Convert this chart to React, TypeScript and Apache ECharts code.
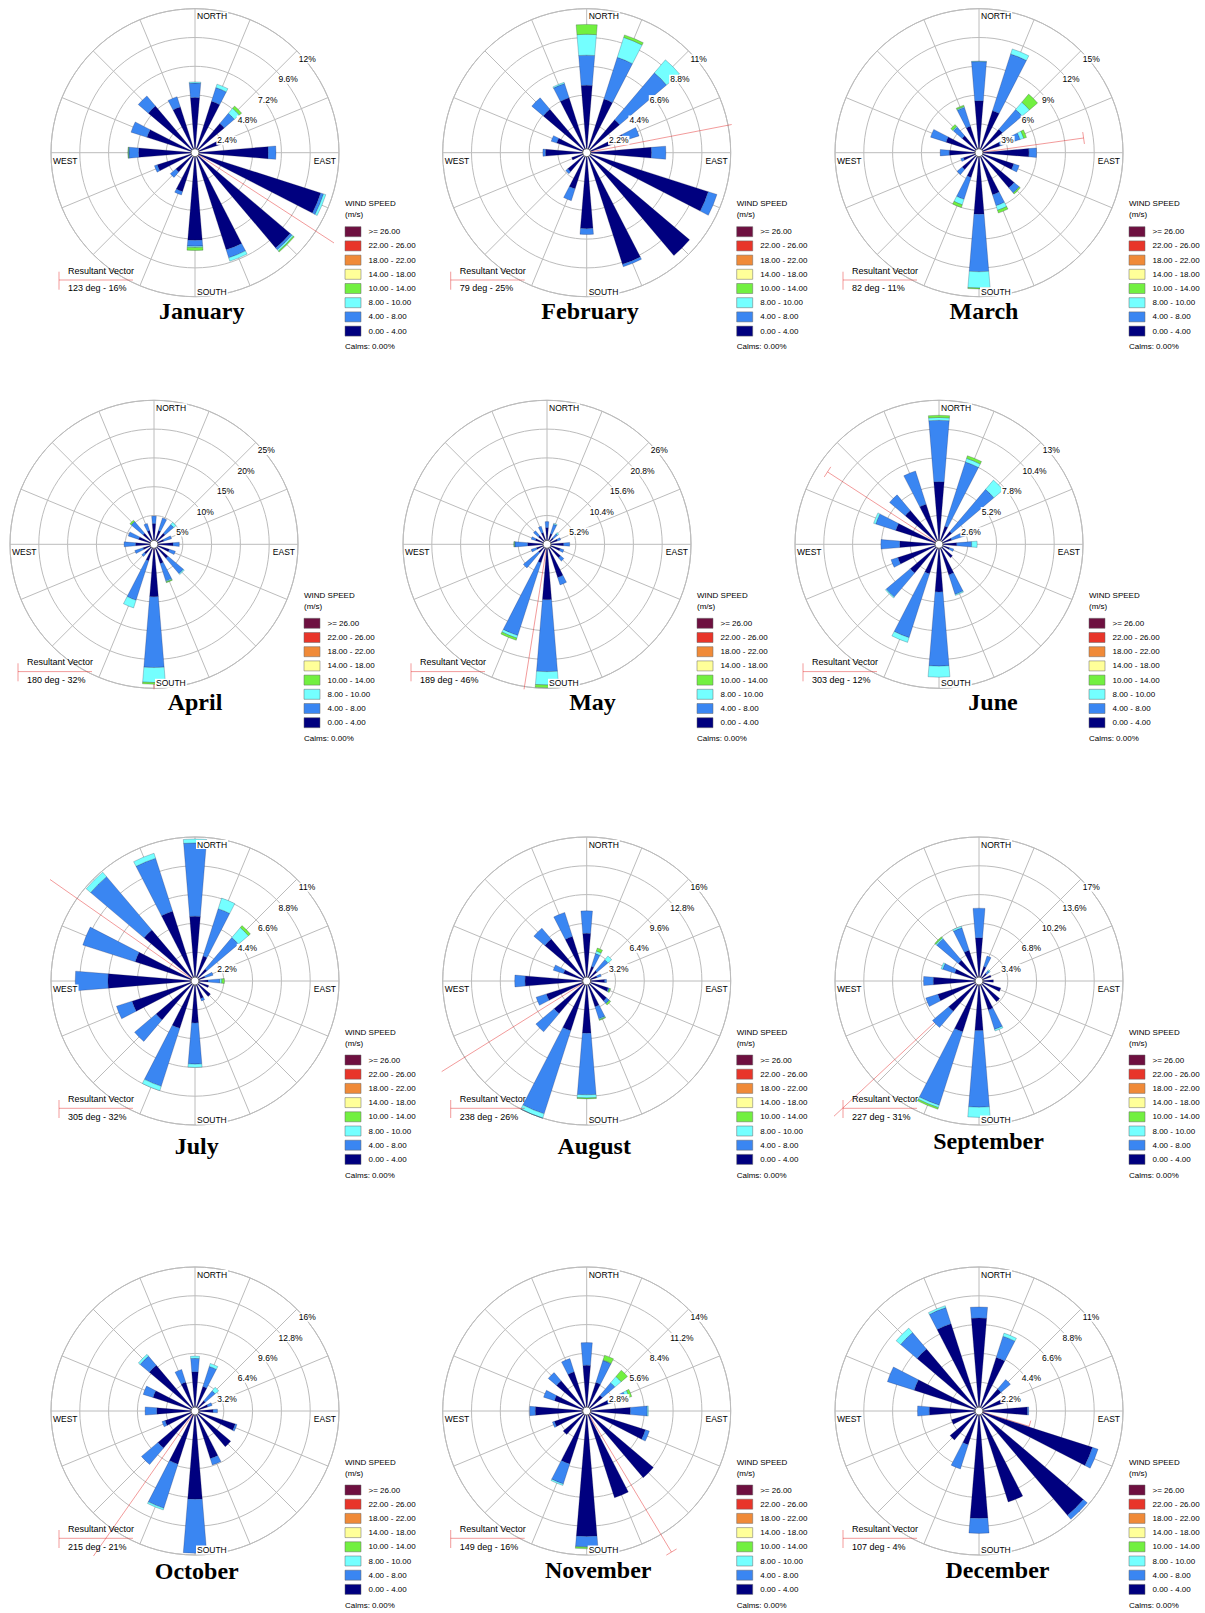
import React, { useEffect, useRef } from 'react';
import * as echarts from 'echarts';

// ---------- DATA ----------
const DIRECTIONS = ['N', 'NNE', 'NE', 'ENE', 'E', 'ESE', 'SE', 'SSE', 'S', 'SSW', 'SW', 'WSW', 'W', 'WNW', 'NW', 'NNW'];
const MONTHS = ['January', 'February', 'March', 'April', 'May', 'June', 'July', 'August', 'September', 'October', 'November', 'December'];
const SPEED_CLASSES = ['0.00 - 4.00', '4.00 - 8.00', '8.00 - 10.00', '10.00 - 14.00'];
const LEGEND_LABELS = ['>= 26.00', '22.00 - 26.00', '18.00 - 22.00', '14.00 - 18.00', '10.00 - 14.00', '8.00 - 10.00', '4.00 - 8.00', '0.00 - 4.00'];
const SCALE_MAX = [12, 11, 15, 25, 26, 13, 11, 16, 17, 16, 14, 11];
const TICK_LABELS = [
  ['2.4%', '4.8%', '7.2%', '9.6%', '12%'],
  ['2.2%', '4.4%', '6.6%', '8.8%', '11%'],
  ['3%', '6%', '9%', '12%', '15%'],
  ['5%', '10%', '15%', '20%', '25%'],
  ['5.2%', '10.4%', '15.6%', '20.8%', '26%'],
  ['2.6%', '5.2%', '7.8%', '10.4%', '13%'],
  ['2.2%', '4.4%', '6.6%', '8.8%', '11%'],
  ['3.2%', '6.4%', '9.6%', '12.8%', '16%'],
  ['3.4%', '6.8%', '10.2%', '13.6%', '17%'],
  ['3.2%', '6.4%', '9.6%', '12.8%', '16%'],
  ['2.8%', '5.6%', '8.4%', '11.2%', '14%'],
  ['2.2%', '4.4%', '6.6%', '8.8%', '11%'],
];
const RESULTANT_DEG = [123, 79, 82, 180, 189, 303, 305, 238, 227, 215, 149, 107];
const RESULTANT_PCT = [16, 25, 11, 32, 46, 12, 32, 26, 31, 21, 16, 4];
const CALMS = '0.00%';

// frequencies (%) per direction N..NNW, per wind speed class
const JAN_0_4 = [4.6, 4.5, 3.2, 2.3, 6.1, 11.0, 10.4, 8.5, 7.3, 3.4, 2.1, 3.3, 4.7, 4.2, 5.1, 4.0];
const JAN_4_8 = [1.2, 1.2, 1.1, 0, 0.65, 0.25, 0.2, 0.7, 0.5, 0.3, 0.6, 0.25, 0.8, 1.4, 1.1, 0.9];
const JAN_8_10 = [0.1, 0.3, 0.55, 0, 0, 0.2, 0.15, 0.3, 0.1, 0, 0, 0, 0.05, 0, 0, 0];
const JAN_10_14 = [0, 0, 0.25, 0, 0, 0, 0.1, 0, 0.25, 0, 0, 0, 0.05, 0, 0, 0];

const FEB_0_4 = [5.15, 4.3, 3.3, 3.0, 4.95, 9.75, 10.3, 8.95, 5.8, 2.9, 1.9, 1.2, 3.15, 2.4, 4.35, 4.4];
const FEB_4_8 = [2.3, 3.35, 4.7, 1.2, 1.1, 0.7, 0, 0.2, 0.45, 0.95, 0.2, 0, 0.2, 0.45, 1.15, 1.15];
const FEB_8_10 = [1.6, 1.6, 1.3, 0, 0, 0, 0, 0, 0, 0, 0, 0, 0, 0, 0, 0.1];
const FEB_10_14 = [0.75, 0.2, 0, 0, 0, 0, 0, 0, 0, 0, 0, 0, 0, 0, 0, 0];

const MAR_0_4 = [5.4, 4.6, 3.2, 2.3, 5.2, 3.8, 4.8, 4.6, 6.4, 2.7, 2.3, 1.7, 3.1, 3.6, 2.3, 2.9];
const MAR_4_8 = [4.1, 6.2, 2.7, 2.2, 0.8, 0.6, 0.7, 1.2, 6.0, 2.4, 0.7, 0.3, 0.95, 1.7, 1.2, 2.05];
const MAR_8_10 = [0.05, 0.55, 1.0, 0.4, 0, 0, 0, 0.5, 1.7, 0.6, 0, 0, 0, 0, 0.1, 0.1];
const MAR_10_14 = [0, 0, 1.1, 0.3, 0, 0, 0.15, 0.3, 0.1, 0.3, 0, 0, 0, 0, 0.25, 0.15];

const APR_0_4 = [3.6, 2.5, 2.5, 1.8, 3.3, 2.8, 3.2, 3.5, 9.1, 3.0, 2.2, 2.0, 3.2, 2.8, 2.5, 2.5];
const APR_4_8 = [1.3, 2.3, 2.0, 1.4, 1.1, 1.1, 3.5, 3.2, 12.3, 7.2, 0.6, 1.5, 2.0, 1.9, 2.7, 1.3];
const APR_8_10 = [0, 0, 0.5, 0, 0, 0, 0.2, 0.15, 2.6, 1.4, 0, 0, 0, 0, 0, 0];
const APR_10_14 = [0, 0, 0, 0, 0, 0, 0, 0.15, 0.3, 0, 0, 0, 0, 0, 0.3, 0];

const MAY_0_4 = [3.0, 2.0, 1.5, 2.0, 3.0, 2.5, 3.2, 6.3, 10.0, 3.5, 2.0, 2.0, 3.5, 2.2, 2.0, 2.2];
const MAY_4_8 = [1.1, 1.8, 1.0, 0.6, 1.1, 0.7, 0.8, 1.4, 13.0, 13.8, 3.6, 1.0, 2.3, 0.8, 1.2, 1.2];
const MAY_8_10 = [0, 0.2, 0.3, 0, 0, 0, 0, 0, 2.4, 0.5, 0, 0, 0.1, 0, 0, 0];
const MAY_10_14 = [0, 0, 0, 0, 0, 0, 0, 0, 0.5, 0.4, 0, 0, 0.1, 0, 0, 0];

const JUN_0_4 = [5.65, 1.7, 1.5, 1.2, 1.6, 1.0, 1.6, 2.9, 4.3, 2.8, 3.4, 3.9, 3.55, 4.1, 4.0, 3.8];
const JUN_4_8 = [5.55, 6.1, 5.0, 1.7, 1.35, 0.4, 0, 1.85, 6.7, 6.05, 2.85, 0.65, 1.7, 1.9, 1.85, 3.15];
const JUN_8_10 = [0.25, 0.35, 1.1, 0, 0.5, 0, 0, 0.1, 1.0, 0.45, 0.1, 0, 0, 0.2, 0, 0];
const JUN_10_14 = [0.2, 0.25, 0, 0, 0, 0, 0, 0, 0, 0, 0, 0, 0, 0, 0, 0];

const JUL_0_4 = [4.95, 2.0, 1.2, 0.8, 1.0, 1.1, 1.55, 1.4, 3.2, 3.8, 3.9, 5.05, 6.65, 4.8, 5.1, 5.6];
const JUL_4_8 = [5.6, 3.8, 3.15, 0.65, 0.9, 0, 0, 0.2, 3.15, 4.65, 2.15, 1.25, 2.5, 4.2, 5.35, 4.25];
const JUL_8_10 = [0.3, 0.85, 1.0, 0, 0.15, 0, 0, 0, 0.25, 0.35, 0, 0, 0, 0, 0.45, 0.4];
const JUL_10_14 = [0, 0, 0.2, 0, 0.2, 0, 0, 0, 0, 0, 0, 0, 0, 0, 0, 0];

const AUG_0_4 = [5.3, 1.7, 1.5, 1.2, 2.0, 2.5, 2.9, 3.0, 5.8, 5.8, 4.75, 4.7, 6.85, 2.7, 6.1, 5.2];
const AUG_4_8 = [2.5, 1.5, 1.6, 0.5, 0.2, 0.15, 0.4, 1.4, 6.85, 9.7, 2.65, 1.2, 1.15, 1.2, 1.6, 2.8];
const AUG_8_10 = [0, 0.3, 0.55, 0, 0, 0, 0, 0.1, 0.35, 0.5, 0, 0, 0, 0, 0, 0];
const AUG_10_14 = [0, 0.35, 0, 0, 0, 0.15, 0.2, 0.1, 0.1, 0.2, 0, 0, 0, 0, 0, 0];

const SEP_0_4 = [5.1, 1.8, 1.2, 1.5, 1.7, 2.7, 3.2, 3.6, 5.85, 6.3, 4.7, 5.1, 5.4, 3.0, 3.2, 3.8];
const SEP_4_8 = [3.5, 1.3, 0.4, 0, 0, 0, 0, 2.4, 9.05, 9.1, 2.5, 1.5, 1.15, 1.5, 3.35, 2.8];
const SEP_8_10 = [0, 0, 0.15, 0, 0, 0, 0, 0.2, 1.2, 0.3, 0, 0, 0, 0.2, 0.15, 0.2];
const SEP_10_14 = [0, 0, 0, 0, 0, 0, 0, 0, 0, 0.2, 0, 0, 0, 0, 0.15, 0];

const OCT_0_4 = [4.35, 2.85, 1.5, 1.5, 2.0, 4.7, 5.2, 5.55, 9.8, 6.2, 5.4, 3.5, 4.25, 4.9, 6.65, 3.35];
const OCT_4_8 = [1.5, 2.35, 1.45, 0.5, 0.5, 0.2, 0, 0.75, 6.0, 5.15, 2.4, 0.35, 1.3, 1.15, 1.35, 1.5];
const OCT_8_10 = [0.25, 0.35, 0.5, 0, 0, 0, 0, 0, 0, 0.2, 0, 0, 0, 0, 0.25, 0];
const OCT_10_14 = [0, 0, 0, 0, 0, 0, 0, 0, 0, 0, 0, 0, 0, 0, 0, 0];

const NOV_0_4 = [4.45, 2.9, 2.0, 2.2, 4.25, 6.0, 8.5, 8.85, 12.2, 5.4, 3.0, 3.3, 5.0, 3.3, 3.85, 4.0];
const NOV_4_8 = [2.2, 2.25, 1.6, 1.8, 1.65, 0.4, 0, 0, 1.0, 2.05, 0, 0.2, 0.55, 1.1, 1.05, 1.35];
const NOV_8_10 = [0, 0.05, 0.8, 0.35, 0.1, 0, 0, 0, 0.05, 0.15, 0, 0, 0, 0, 0, 0];
const NOV_10_14 = [0, 0.5, 0.8, 0.25, 0, 0, 0, 0, 0.15, 0, 0, 0, 0, 0, 0, 0];

const DEC_0_4 = [7.1, 4.3, 2.2, 2.0, 3.7, 9.1, 10.45, 7.3, 8.2, 2.7, 2.9, 2.2, 3.8, 5.2, 6.2, 7.0];
const DEC_4_8 = [0.85, 1.7, 0.95, 0, 0.1, 0.45, 0.4, 0, 1.15, 1.95, 0, 0, 0.9, 2.15, 1.65, 1.3];
const DEC_8_10 = [0, 0.25, 0, 0, 0, 0, 0, 0, 0, 0, 0, 0, 0, 0, 0.45, 0.15];
const DEC_10_14 = [0, 0, 0, 0, 0, 0, 0, 0, 0, 0, 0, 0, 0, 0, 0, 0];

const MONTH_SETS = [
  [JAN_0_4, JAN_4_8, JAN_8_10, JAN_10_14],
  [FEB_0_4, FEB_4_8, FEB_8_10, FEB_10_14],
  [MAR_0_4, MAR_4_8, MAR_8_10, MAR_10_14],
  [APR_0_4, APR_4_8, APR_8_10, APR_10_14],
  [MAY_0_4, MAY_4_8, MAY_8_10, MAY_10_14],
  [JUN_0_4, JUN_4_8, JUN_8_10, JUN_10_14],
  [JUL_0_4, JUL_4_8, JUL_8_10, JUL_10_14],
  [AUG_0_4, AUG_4_8, AUG_8_10, AUG_10_14],
  [SEP_0_4, SEP_4_8, SEP_8_10, SEP_10_14],
  [OCT_0_4, OCT_4_8, OCT_8_10, OCT_10_14],
  [NOV_0_4, NOV_4_8, NOV_8_10, NOV_10_14],
  [DEC_0_4, DEC_4_8, DEC_8_10, DEC_10_14],
];

// ---------- STYLE / LAYOUT ----------
const CLASS_COLORS = ['#00007f', '#3a86f2', '#74ffff', '#72f040'];
const LEGEND_COLORS = ['#6e1040', '#e8352a', '#f08a38', '#ffff99', '#72f040', '#74ffff', '#3a86f2', '#00007f'];
const GRID = '#bcbcbc';
const RV_COLOR = 'rgba(226,34,34,0.45)';
const SANS = '"Liberation Sans", Arial, sans-serif';
const SERIF = '"Liberation Serif", "Times New Roman", serif';
const R = 144;
const CLIP = 145;
const CENTERS: [number, number][] = [
  [195, 152.7], [586.7, 152.7], [979, 152.7],
  [154, 544.3], [547, 544.3], [939, 544.3],
  [195, 981], [586.7, 981], [979, 981],
  [195, 1411], [586.7, 1411], [979, 1411],
];
const TITLE_OFFSETS: [number, number][] = [
  [6.7, 158], [3.3, 158], [5, 158],
  [41, 158], [45.5, 158], [54, 158],
  [1.7, 164.5], [7.5, 164.5], [9.5, 160],
  [1.7, 160.3], [11.5, 158.7], [18.5, 158.7],
];

function buildOption() {
  const polar: any[] = [];
  const angleAxis: any[] = [];
  const radiusAxis: any[] = [];
  const series: any[] = [];
  const g: any[] = [];

  const txt = (x: number, y: number, text: string, extra: any = {}, z = 20) => ({
    type: 'text', x, y, z, silent: true,
    style: { text, fill: '#000', fontSize: 8.5, fontFamily: SANS, align: 'left', verticalAlign: 'middle', ...extra },
  });

  MONTHS.forEach((name, m) => {
    const [cx, cy] = CENTERS[m];
    const max = SCALE_MAX[m];

    // grid polar
    polar.push({ center: [cx, cy], radius: R });
    angleAxis.push({
      polarIndex: 2 * m, type: 'value', min: 0, max: 360, interval: 22.5, startAngle: 90, clockwise: true,
      axisLine: { show: true, lineStyle: { color: GRID, width: 1 } },
      axisTick: { show: false }, axisLabel: { show: false },
      splitLine: { show: true, lineStyle: { color: GRID, width: 1 } },
    });
    radiusAxis.push({
      polarIndex: 2 * m, type: 'value', min: 0, max, interval: max / 5,
      axisLine: { show: false }, axisTick: { show: false }, axisLabel: { show: false },
      splitLine: { show: true, lineStyle: { color: GRID, width: 1 } },
    });
    // bar polar
    polar.push({ center: [cx, cy], radius: R });
    angleAxis.push({
      polarIndex: 2 * m + 1, type: 'category', data: DIRECTIONS, startAngle: 101.25, clockwise: true, boundaryGap: true,
      axisLine: { show: false }, axisTick: { show: false }, axisLabel: { show: false }, splitLine: { show: false },
    });
    radiusAxis.push({
      polarIndex: 2 * m + 1, type: 'value', min: 0, max,
      axisLine: { show: false }, axisTick: { show: false }, axisLabel: { show: false }, splitLine: { show: false },
    });

    MONTH_SETS[m].forEach((arr, k) => {
      series.push({
        type: 'bar', coordinateSystem: 'polar', polarIndex: 2 * m + 1,
        name: SPEED_CLASSES[k], stack: 'rose' + m,
        data: arr.map((v) => (v > 0 ? v : '-')),
        barWidth: '42%', silent: true, z: 2,
        itemStyle: { color: CLASS_COLORS[k], borderColor: 'rgba(20,20,60,0.45)', borderWidth: 0.5 },
      });
    });

    // resultant vector (under bars)
    const b = (RESULTANT_DEG[m] * Math.PI) / 180;
    const L = (RESULTANT_PCT[m] / max) * R;
    const dx = L * Math.sin(b);
    const dy = -L * Math.cos(b);
    const t = Math.min(1, CLIP / Math.max(Math.abs(dx), 1e-6), CLIP / Math.max(Math.abs(dy), 1e-6));
    const ex = cx + dx * t;
    const ey = cy + dy * t;
    g.push({ type: 'line', z: 1, silent: true, shape: { x1: cx, y1: cy, x2: ex, y2: ey }, style: { stroke: RV_COLOR, lineWidth: 1 } });
    if (t >= 1) {
      const px = Math.cos(b) * 6;
      const py = Math.sin(b) * 6;
      g.push({ type: 'line', z: 1, silent: true, shape: { x1: ex - px, y1: ey - py, x2: ex + px, y2: ey + py }, style: { stroke: RV_COLOR, lineWidth: 1 } });
    }

    // calm circle
    g.push({ type: 'circle', z: 10, silent: true, shape: { cx, cy, r: 4 }, style: { fill: '#fff', stroke: '#666', lineWidth: 1 } });

    // ring labels
    TICK_LABELS[m].forEach((lab, i) => {
      const r = (R * (i + 1)) / 5;
      g.push(txt(cx + r * Math.SQRT1_2 + 1, cy - r * Math.SQRT1_2 + 8, lab, { backgroundColor: '#fff', padding: [0, 1] }));
    });

    // direction labels
    g.push(txt(cx + 1, cy - 136.5, 'NORTH', { backgroundColor: '#fff', padding: [0, 1] }));
    g.push(txt(cx + 1, cy + 139, 'SOUTH', { backgroundColor: '#fff', padding: [0, 1] }));
    g.push(txt(cx - 143, cy + 8, 'WEST', { backgroundColor: '#fff', padding: [0, 1] }));
    g.push(txt(cx + 142, cy + 8, 'EAST', { backgroundColor: '#fff', padding: [0, 1], align: 'right' }));

    // legend
    g.push({ type: 'rect', z: 15, silent: true, shape: { x: cx + 139, y: cy + 45, width: 72, height: 160 }, style: { fill: '#fff' } });
    g.push(txt(cx + 150, cy + 51, 'WIND SPEED', { fontSize: 8 }));
    g.push(txt(cx + 150, cy + 62, '(m/s)', { fontSize: 8 }));
    LEGEND_LABELS.forEach((lab, i) => {
      const yc = cy + 79 + 14.2 * i;
      g.push({ type: 'rect', z: 20, silent: true, shape: { x: cx + 150, y: yc - 5, width: 16, height: 10 }, style: { fill: LEGEND_COLORS[i], stroke: '#666', lineWidth: 0.5 } });
      g.push(txt(cx + 173.5, yc, lab, { fontSize: 8 }));
    });
    g.push(txt(cx + 150, cy + 194, 'Calms: ' + CALMS, { fontSize: 8 }));

    // resultant vector legend
    g.push({ type: 'line', z: 20, silent: true, shape: { x1: cx - 136, y1: cy + 119, x2: cx - 136, y2: cy + 137 }, style: { stroke: RV_COLOR, lineWidth: 1 } });
    g.push({ type: 'line', z: 20, silent: true, shape: { x1: cx - 136, y1: cy + 127.3, x2: cx - 62, y2: cy + 127.3 }, style: { stroke: RV_COLOR, lineWidth: 1 } });
    g.push(txt(cx - 127, cy + 118, 'Resultant Vector', { fontSize: 9 }));
    g.push(txt(cx - 127, cy + 135.5, `${RESULTANT_DEG[m]} deg - ${RESULTANT_PCT[m]}%`, { fontSize: 9 }));

    // title
    const [tx, ty] = TITLE_OFFSETS[m];
    g.push({
      type: 'text', z: 20, silent: true, x: cx + tx, y: cy + ty,
      style: { text: name, fill: '#000', fontSize: 24, fontWeight: 'bold', fontFamily: SERIF, align: 'center', verticalAlign: 'middle' },
    });
  });

  return {
    animation: false,
    backgroundColor: '#fff',
    polar,
    angleAxis,
    radiusAxis,
    series,
    graphic: { elements: g },
  };
}

export default function App() {
  const ref = useRef<HTMLDivElement>(null);
  useEffect(() => {
    if (!ref.current) return;
    const chart = echarts.init(ref.current, undefined, { renderer: 'svg' });
    chart.setOption(buildOption() as any);
    return () => chart.dispose();
  }, []);
  return <div ref={ref} style={{ position: 'absolute', left: 0, top: 0, width: 1205, height: 1613, background: '#fff' }} />;
}
